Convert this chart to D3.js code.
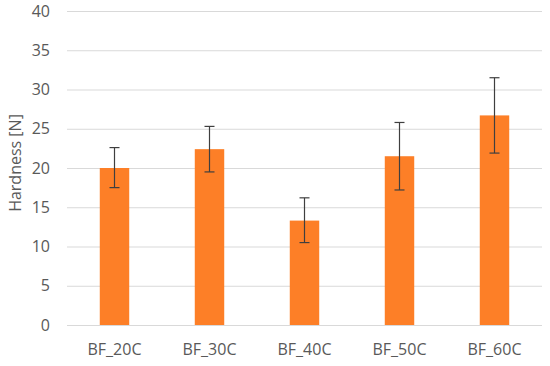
<!DOCTYPE html>
<html>
<head>
<meta charset="utf-8">
<script src="https://cdn.jsdelivr.net/npm/d3@7"></script>
<style>
  body { margin: 0; background: #fff; }
  text { font-family: "Open Sans", "Noto Sans", sans-serif; fill: #595959; }
</style>
</head>
<body>
<div id="chart"></div>
<script>
const categories = ["BF_20C", "BF_30C", "BF_40C", "BF_50C", "BF_60C"];
const hardness = [20.0, 22.4, 13.3, 21.5, 26.7];
const errLow = [2.5, 2.9, 2.8, 4.3, 4.8];
const errHigh = [2.6, 2.9, 2.9, 4.3, 4.8];
const yTicks = [0, 5, 10, 15, 20, 25, 30, 35, 40];

const width = 550, height = 366;
const margin = {top: 11, right: 8, bottom: 41, left: 67};

const svg = d3.select("#chart").append("svg")
    .attr("width", width)
    .attr("height", height);

const x = d3.scaleBand()
    .domain(categories)
    .range([margin.left, width - margin.right])
    .paddingInner(0.69)
    .paddingOuter(0.345);

const y = d3.scaleLinear()
    .domain([0, 40])
    .range([height - margin.bottom, margin.top]);

// gridlines
svg.append("g")
    .selectAll("line")
    .data(yTicks)
    .enter().append("line")
    .attr("x1", margin.left)
    .attr("x2", width - margin.right)
    .attr("y1", d => y(d) + 0.5)
    .attr("y2", d => y(d) + 0.5)
    .attr("stroke", "#d9d9d9")
    .attr("stroke-width", 1);

// y labels
svg.append("g")
    .selectAll("text")
    .data(yTicks)
    .enter().append("text")
    .attr("x", 50)
    .attr("y", d => y(d))
    .attr("dy", "0.35em")
    .attr("text-anchor", "end")
    .style("font-size", "16px")
    .text(d => d);

const data = categories.map((c, i) => ({
    name: c, value: hardness[i], lo: hardness[i] - errLow[i], hi: hardness[i] + errHigh[i]
}));

// bars
svg.append("g")
    .selectAll("rect")
    .data(data)
    .enter().append("rect")
    .attr("x", d => x(d.name))
    .attr("y", d => y(d.value))
    .attr("width", x.bandwidth())
    .attr("height", d => y(0) - y(d.value))
    .attr("fill", "#fd7f27");

// error bars
const eb = svg.append("g")
    .attr("stroke", "#3f3f3f")
    .attr("stroke-width", 1.2);

data.forEach(d => {
    const cx = x(d.name) + x.bandwidth() / 2;
    eb.append("line").attr("x1", cx).attr("x2", cx).attr("y1", y(d.hi)).attr("y2", y(d.lo));
    eb.append("line").attr("x1", cx - 5).attr("x2", cx + 5).attr("y1", y(d.hi)).attr("y2", y(d.hi));
    eb.append("line").attr("x1", cx - 5).attr("x2", cx + 5).attr("y1", y(d.lo)).attr("y2", y(d.lo));
});

// x labels
svg.append("g")
    .selectAll("text")
    .data(categories)
    .enter().append("text")
    .attr("x", d => x(d) + x.bandwidth() / 2)
    .attr("y", 349)
    .attr("dy", "0.35em")
    .attr("text-anchor", "middle")
    .style("font-size", "16px")
    .text(d => d);

// y title
svg.append("text")
    .attr("transform", "translate(15," + 163 + ") rotate(-90)")
    .attr("text-anchor", "middle")
    .attr("dy", "0.35em")
    .style("font-size", "16px")
    .text("Hardness [N]");
</script>
</body>
</html>
